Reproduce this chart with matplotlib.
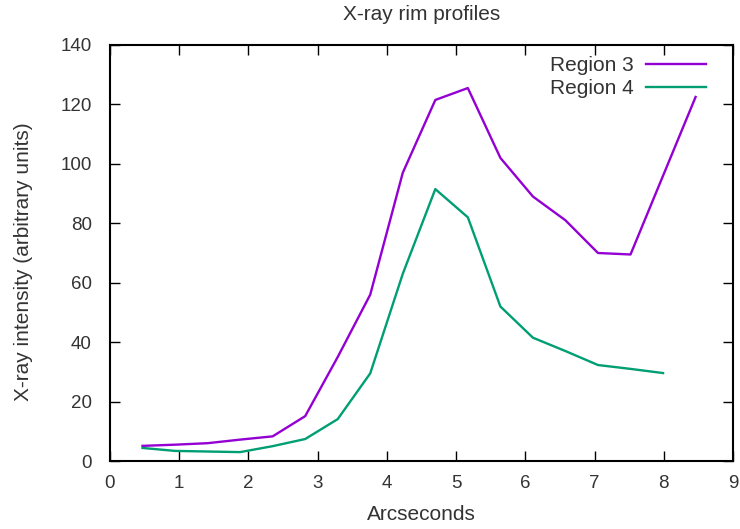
import matplotlib.pyplot as plt
from matplotlib.ticker import MultipleLocator

plt.rcParams['font.family'] = ['Liberation Sans', 'DejaVu Sans']

arcsec = [0.47, 0.94, 1.41, 1.88, 2.35, 2.82, 3.29, 3.76, 4.23, 4.70,
          5.17, 5.64, 6.11, 6.58, 7.05, 7.52, 7.99, 8.46]
region3 = [5.1, 5.5, 6.0, 7.2, 8.3, 15.1, 35, 56, 97, 121.5,
           125.5, 102, 89, 81, 70, 69.5, 96, 122.5]
region4 = [4.4, 3.4, 3.2, 3.0, 5.0, 7.4, 14.1, 29.5, 63, 91.5,
           82, 52, 41.5, 37, 32.3, 31, 29.6]

fig = plt.figure(figsize=(7.4, 5.29), dpi=100)
ax = fig.add_axes([0.1486, 0.1285, 0.8419, 0.7865])

ax.plot(arcsec, region3, color='#9400D3', lw=1.7, label='Region 3')
ax.plot(arcsec[:len(region4)], region4, color='#009E73', lw=1.7, label='Region 4')

ax.set_xlim(0, 9)
ax.set_ylim(0, 140)
ax.xaxis.set_major_locator(MultipleLocator(1))
ax.yaxis.set_major_locator(MultipleLocator(20))
ax.tick_params(direction='in', top=True, right=True, length=7, width=1,
               labelsize=13.5, labelcolor='#333333')
ax.tick_params(axis='y', pad=13)
ax.tick_params(axis='x', pad=10)
for s in ax.spines.values():
    s.set_linewidth(1.5)

ax.set_title('X-ray rim profiles', fontsize=15, color='#333333', pad=18)
ax.set_xlabel('Arcseconds', fontsize=15, color='#333333')
ax.set_ylabel('X-ray intensity (arbitrary units)', fontsize=15, color='#333333')
ax.xaxis.set_label_coords(0.5, -0.105)
ax.yaxis.set_label_coords(-0.124, 0.48)

leg = ax.legend(loc='upper right', frameon=False, markerfirst=False, fontsize=15,
                handlelength=2.9, handletextpad=0.6, borderaxespad=0, borderpad=0,
                labelspacing=0.2, bbox_to_anchor=(0.957, 0.973))
for t in leg.get_texts():
    t.set_color('#333333')

fig.savefig('out.png', dpi=100)
